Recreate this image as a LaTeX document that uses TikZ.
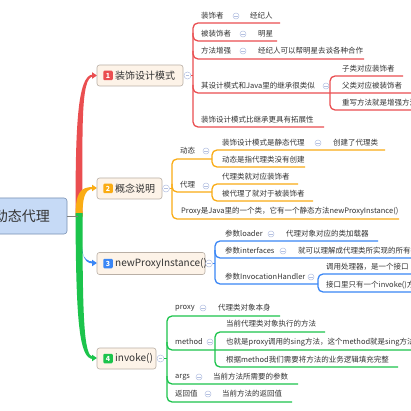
\documentclass[tikz,border=0pt]{standalone}
\usepackage{fontspec}
\setmainfont{Noto Sans CJK SC}
\definecolor{cred}{RGB}{234,78,80}
\definecolor{corange}{RGB}{250,172,20}
\definecolor{cblue}{RGB}{58,134,245}
\definecolor{cgreen}{RGB}{28,196,76}
\definecolor{ctext}{RGB}{51,51,51}
\definecolor{cbox}{RGB}{253,243,232}
\definecolor{cboxb}{RGB}{185,175,165}
\definecolor{ccen}{RGB}{198,218,246}
\definecolor{ccenb}{RGB}{120,145,180}
\definecolor{cicon}{RGB}{180,192,225}
\tikzset{
  lbl/.style={anchor=west, inner sep=0pt, text=ctext, font=\fontsize{7.5}{9}\selectfont},
  blbl/.style={anchor=west, inner sep=0pt, text=ctext, font=\fontsize{10}{12}\selectfont},
  bbox/.style={draw=cboxb, fill=cbox, rounded corners=2.5pt, line width=.6pt, inner sep=0pt},
  badge/.style={rounded corners=1.2pt, minimum width=9.5pt, minimum height=9.5pt, inner sep=0pt, text=white, font=\fontsize{7}{8}\selectfont\bfseries},
  ico/.style={circle, draw=cicon, fill=white, line width=.5pt, minimum size=6pt, inner sep=0pt,
    path picture={\draw[cicon, line width=.5pt] ([xshift=-1.7pt]path picture bounding box.center) -- ([xshift=1.7pt]path picture bounding box.center);}},
  brk/.style={line width=1.3pt, rounded corners=5pt},
}
\begin{document}
\begin{tikzpicture}[x=1pt,y=-1pt]
\useasboundingbox (0,0) rectangle (411,411);
\fill[white] (0,0) rectangle (411,411);
\clip (0,0) rectangle (411,411);

% ---------- trunk branches ----------
\fill[cred] (75.5,216) .. controls (75.5,130) and (77,74.5) .. (93,74.5) -- (93,76.5) .. controls (80.5,77) and (82.5,130) .. (82.5,216) -- cycle;
\fill[cred] (92,72.2) -- (97,75.5) -- (92,78.8) -- cycle;
\fill[corange] (75.5,217) .. controls (75.5,193) and (80,187) .. (93,187) -- (93,189) .. controls (84,189) and (82.5,200) .. (82.5,217) -- cycle;
\fill[corange] (92,184.7) -- (97,188) -- (92,191.3) -- cycle;
\fill[cblue] (78,218) .. controls (79,252) and (83,261.5) .. (93,261.5) -- (93,263.5) .. controls (82,263.5) and (81,252) .. (81.5,218) -- cycle;
\fill[cblue] (92,259.7) -- (97,263) -- (92,266.3) -- cycle;
\fill[cgreen] (75.5,213) .. controls (76,320) and (79,359) .. (93,359) -- (93,357) .. controls (84,356) and (82.5,320) .. (82.5,213) -- cycle;
\fill[cgreen] (92,354.7) -- (97,358) -- (92,361.3) -- cycle;

% ---------- central node ----------
\node[draw=ccenb, fill=ccen, rounded corners=3pt, line width=.6pt, minimum width=80pt, minimum height=36pt, inner sep=0pt] (root) at (27,216) {};
\node[inner sep=0pt, text=ctext, font=\fontsize{14}{16}\selectfont] (roott) at (22,216.5) {动态代理};
\coordinate (trunk) at (78,216.5);
\draw[gray, line width=1pt] (root.east |- trunk) -- (trunk);

% ---------- branch boxes ----------
\node[bbox, minimum width=86pt, minimum height=21pt] (b1) at (140,75.5) {};
\node[badge, fill=cred] (k1) at (108,75.5) {1};
\node[blbl] (l1) at (115,75.5) {装饰设计模式};
\node[bbox, minimum width=65pt, minimum height=21pt] (b2) at (129.5,188.5) {};
\node[badge, fill=corange] (k2) at (108,188.5) {2};
\node[blbl] (l2) at (115,188.5) {概念说明};
\node[bbox, minimum width=108pt, minimum height=22pt] (b3) at (151,263.5) {};
\node[badge, fill=cblue] (k3) at (108,263.5) {3};
\node[blbl] (l3) at (115,263.5) {newProxyInstance()};
\node[bbox, minimum width=59pt, minimum height=21pt] (b4) at (126.5,358.5) {};
\node[badge, fill=cgreen] (k4) at (108,358.5) {4};
\node[blbl] (l4) at (115,358.5) {invoke()};

% collapse circles
\node[ico, minimum size=7pt] (c1) at (187.5,75.5) {};
\node[ico, minimum size=7pt] (c2) at (166,188.5) {};
\node[ico, minimum size=7pt] (c3) at (209,263.5) {};
\node[ico, minimum size=7pt] (c4) at (160.5,358.5) {};

% ---------- branch 1 (red) ----------
\coordinate (r1) at (193,75.5);
\draw[cred, line width=1pt] (c1.east) -- (r1);
\draw[cred, brk] (280,23) -- (193,23) -- (193,127) -- (324,127);
\draw[cred, brk] (193,33) -- (193,41) -- (277,41);
\draw[cred, brk] (193,51) -- (193,59) -- (364,59);
\draw[cred, brk] (193,85) -- (193,93) -- (411,93);
\draw[cred, brk] (403,76) -- (330,76) -- (330,110) -- (420,110);
\node[lbl] (t11) at (201,16) {装饰者};
\node[ico] (i11) at (236,16) {};
\node[lbl] (t11b) at (250,16) {经纪人};
\node[lbl] (t12) at (201,34) {被装饰者};
\node[ico] (i12) at (243,34) {};
\node[lbl] (t12b) at (258,34) {明星};
\node[lbl] (t13) at (201,51) {方法增强};
\node[ico] (i13) at (243,51) {};
\node[lbl] (t13b) at (258,51) {经纪人可以帮明星去谈各种合作};
\node[lbl] (t14) at (201,86) {其设计模式和Java里的继承很类似};
\node[ico] (i14) at (326,86) {};
\node[lbl] (t15) at (201,120) {装饰设计模式比继承更具有拓展性};
\node[lbl] (t141) at (342,68.5) {子类对应装饰者};
\node[lbl] (t142) at (342,86) {父类对应被装饰者};
\node[lbl] (t143) at (342,103) {重写方法就是增强方法};

% ---------- branch 2 (orange) ----------
\coordinate (r2) at (172,188.5);
\draw[corange, line width=1pt] (c2.east) -- (r2);
\draw[corange, brk] (212,159) -- (172,159) -- (172,219) -- (399,219);
\draw[corange, brk] (172,184) -- (172,192) -- (212,192);
\draw[corange, brk] (385,150) -- (212,150) -- (212,167) -- (305,167);
\draw[corange, brk] (298,184) -- (212,184) -- (212,201) -- (313,201);
\node[lbl] (t21) at (180,151) {动态};
\node[ico] (i21) at (206,151) {};
\node[lbl] (t211) at (222,143) {装饰设计模式是静态代理};
\node[ico] (i211) at (318,143) {};
\node[lbl] (t211b) at (333,143) {创建了代理类};
\node[lbl] (t212) at (222,160) {动态是指代理类没有创建};
\node[lbl] (t22) at (180,185) {代理};
\node[ico] (i22) at (206,186) {};
\node[lbl] (t221) at (222,177) {代理类就对应装饰者};
\node[lbl] (t222) at (222,194) {被代理了就对于被装饰者};
\node[lbl] (t23) at (181,211.5) {Proxy是Java里的一个类，它有一个静态方法newProxyInstance()};

% ---------- branch 3 (blue) ----------
\coordinate (r3) at (215,263.5);
\draw[cblue, line width=1pt] (c3.east) -- (r3);
\draw[cblue, brk] (378,241) -- (215,241) -- (215,284) -- (318,284);
\draw[cblue, brk] (215,250) -- (215,258) -- (420,258);
\draw[cblue, brk] (420,274) -- (318,274) -- (318,292) -- (420,292);
\node[lbl] (t31) at (225,234) {参数loader};
\node[ico] (i31) at (271,234) {};
\node[lbl] (t31b) at (286,234) {代理对象对应的类加载器};
\node[lbl] (t32) at (225,251) {参数interfaces};
\node[ico] (i32) at (283,251) {};
\node[lbl] (t32b) at (298,251) {就可以理解成代理类所实现的所有接口};
\node[lbl] (t33) at (225,277) {参数InvocationHandler};
\node[ico] (i33) at (311,277) {};
\node[lbl] (t331) at (326,267) {调用处理器，是一个接口};
\node[lbl] (t332) at (326,285) {接口里只有一个invoke()方法};

% ---------- branch 4 (green) ----------
\coordinate (r4) at (167,358.5);
\draw[cgreen, line width=1pt] (c4.east) -- (r4);
\draw[cgreen, brk] (280,316) -- (167,316) -- (167,402) -- (292,402);
\draw[cgreen, brk] (167,342) -- (167,350) -- (420,350);
\draw[cgreen, brk] (167,376) -- (167,384) -- (298,384);
\draw[cgreen, brk] (325,332) -- (215,332) -- (215,367) -- (398,367);
\node[lbl] (t41) at (175,308) {proxy};
\node[ico] (i41) at (203,308) {};
\node[lbl] (t41b) at (218,308) {代理类对象本身};
\node[lbl] (t42) at (175,342) {method};
\node[ico] (i42) at (210,342) {};
\node[lbl] (t421) at (226,324) {当前代理类对象执行的方法};
\node[lbl] (t422) at (226,342) {也就是proxy调用的sing方法，这个method就是sing方法};
\node[lbl] (t423) at (226,360) {根据method我们需要将方法的业务逻辑填充完整};
\node[lbl] (t43) at (175,377) {args};
\node[ico] (i43) at (199,377) {};
\node[lbl] (t43b) at (213,377) {当前方法所需要的参数};
\node[lbl] (t44) at (175,394) {返回值};
\node[ico] (i44) at (208,394) {};
\node[lbl] (t44b) at (222,394) {当前方法的返回值};
\end{tikzpicture}
\end{document}
